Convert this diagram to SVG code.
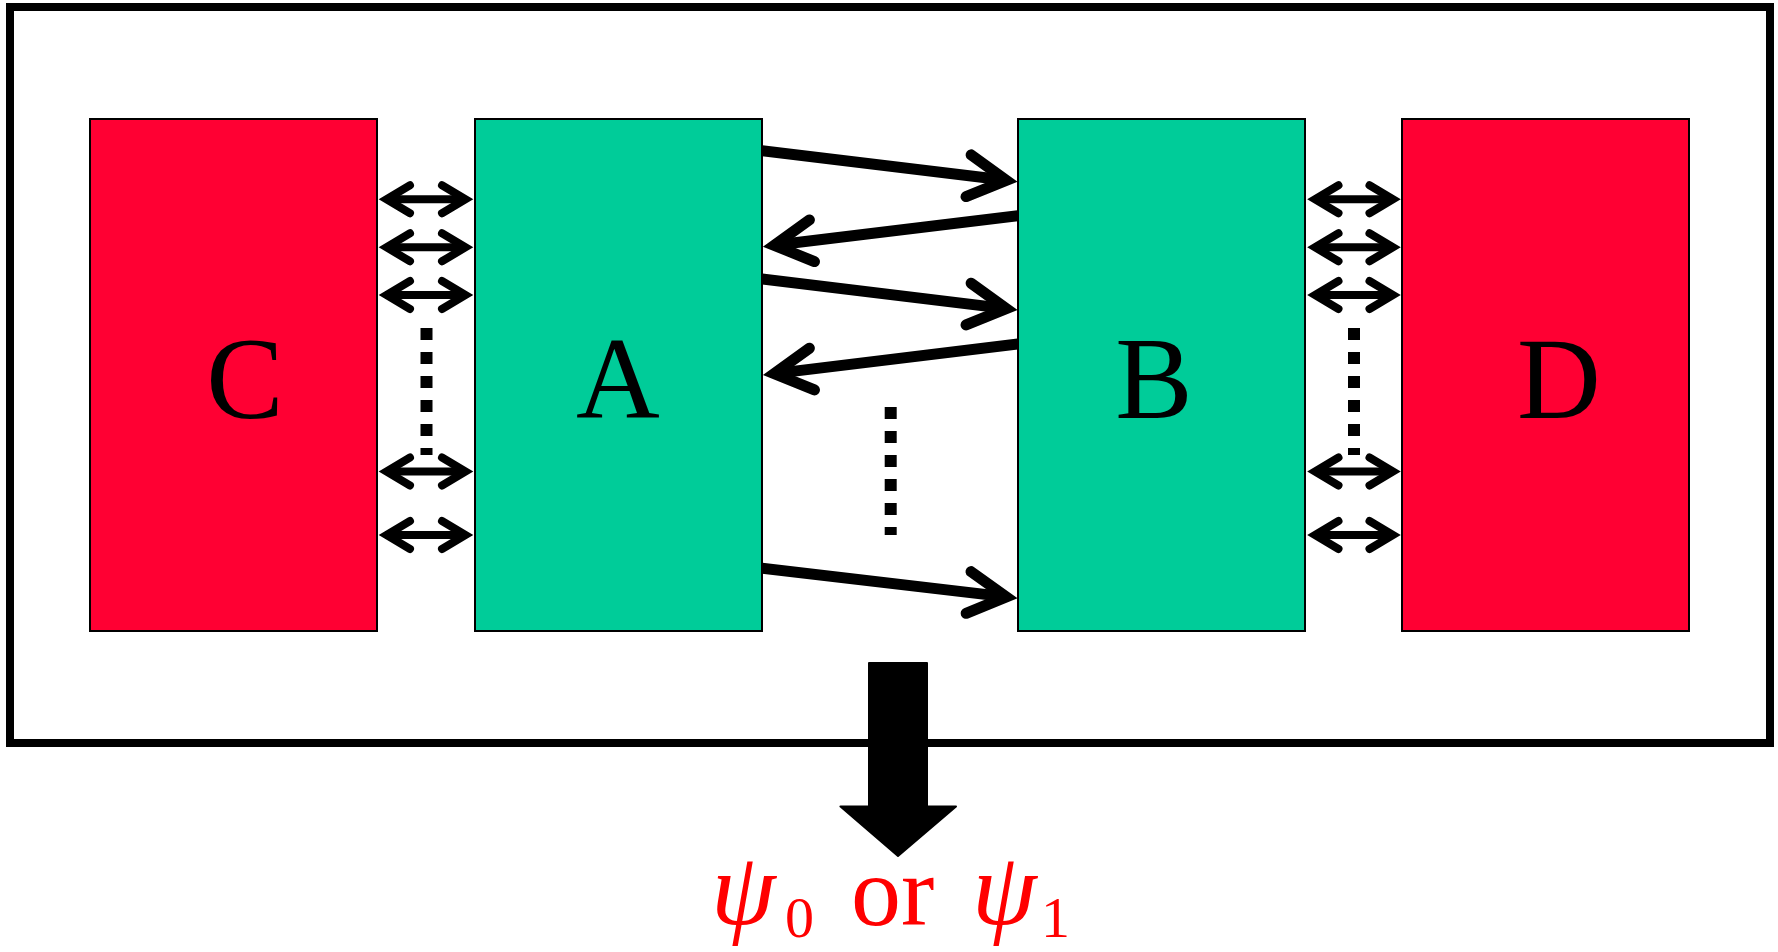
<svg xmlns="http://www.w3.org/2000/svg" width="1778" height="952" viewBox="0 0 1778 952">
<style>
.frame{fill:none;stroke:#000;stroke-width:8}
.red{fill:#FF0033;stroke:#000;stroke-width:2}
.green{fill:#00CC99;stroke:#000;stroke-width:2}
.lbl{font-size:116px;fill:#000;text-anchor:middle}
.dbl{stroke:#000;stroke-width:8;fill:none;marker-start:url(#sh);marker-end:url(#sh)}
.big{stroke:#000;stroke-width:11;fill:none;marker-end:url(#bh)}
.dots{stroke:#000;stroke-width:12;stroke-dasharray:12 12;fill:none}
.out{fill:#FF0000}
</style>
<defs>
<marker id="sh" markerUnits="userSpaceOnUse" markerWidth="60" markerHeight="60" refX="0" refY="0" orient="auto-start-reverse" overflow="visible">
<path d="M-23.5,-14 L0,0 L-23.5,14" fill="none" stroke="#000" stroke-width="8" stroke-linecap="round" stroke-linejoin="miter" stroke-miterlimit="10"/>
</marker>
<marker id="bh" markerUnits="userSpaceOnUse" markerWidth="80" markerHeight="80" refX="0" refY="0" orient="auto" overflow="visible">
<path d="M-38,-21 L0,0 L-38,21" fill="none" stroke="#000" stroke-width="11" stroke-linecap="round" stroke-linejoin="miter" stroke-miterlimit="10"/>
</marker>
</defs>
<rect width="1778" height="952" fill="#fff"/>
<rect id="frame" class="frame" x="10" y="7" width="1760" height="736"/>
<g font-family="Liberation Serif, Times New Roman, Tinos, serif">
<g id="C"><rect class="red" x="90" y="119" width="287" height="512"/><text class="lbl" x="245" y="418">C</text></g>
<g id="A"><rect class="green" x="475" y="119" width="287" height="512"/><text class="lbl" x="618" y="418">A</text></g>
<g id="B"><rect class="green" x="1018" y="119" width="287" height="512"/><text class="lbl" x="1154" y="418">B</text></g>
<g id="D"><rect class="red" x="1402" y="119" width="287" height="512"/><text class="lbl" x="1559" y="418">D</text></g>
</g>
<g id="connectors">
<line class="dbl" x1="386.5" y1="199.3" x2="465.5" y2="199.3"/>
<line class="dbl" x1="386.5" y1="247.3" x2="465.5" y2="247.3"/>
<line class="dbl" x1="386.5" y1="295" x2="465.5" y2="295"/>
<line class="dbl" x1="386.5" y1="471.5" x2="465.5" y2="471.5"/>
<line class="dbl" x1="386.5" y1="535" x2="465.5" y2="535"/>
<line class="dots" x1="426.5" y1="328" x2="426.5" y2="455"/>
<line class="dbl" x1="1315" y1="199.3" x2="1393" y2="199.3"/>
<line class="dbl" x1="1315" y1="247.3" x2="1393" y2="247.3"/>
<line class="dbl" x1="1315" y1="295" x2="1393" y2="295"/>
<line class="dbl" x1="1315" y1="471.5" x2="1393" y2="471.5"/>
<line class="dbl" x1="1315" y1="535" x2="1393" y2="535"/>
<line class="dots" x1="1354" y1="328" x2="1354" y2="455"/>
<line class="big" x1="762" y1="150.7" x2="1006.3" y2="180.3"/>
<line class="big" x1="1018" y1="215.8" x2="774.2" y2="245.3"/>
<line class="big" x1="762" y1="279" x2="1006.3" y2="308.6"/>
<line class="big" x1="1018" y1="344" x2="774.2" y2="373.6"/>
<line class="big" x1="762" y1="568.3" x2="1006.3" y2="596.9"/>
<line class="dots" x1="890.7" y1="407" x2="890.7" y2="535"/>
</g>
<g id="output">
<polygon points="869,663 927,663 927,806.5 956,806.5 898,856 840.5,806.5 869,806.5" fill="#000" stroke="#000" stroke-width="2" stroke-linejoin="round"/>
<text class="out" font-family="Liberation Serif, Times New Roman, Tinos, serif" font-size="100"><tspan x="711" y="924" font-style="italic" font-size="104">ψ</tspan><tspan x="785" y="937" font-size="58">0</tspan><tspan x="851" y="925">or</tspan><tspan x="972" y="924" font-style="italic" font-size="104">ψ</tspan><tspan x="1041" y="937" font-size="58">1</tspan></text>
</g>
</svg>
